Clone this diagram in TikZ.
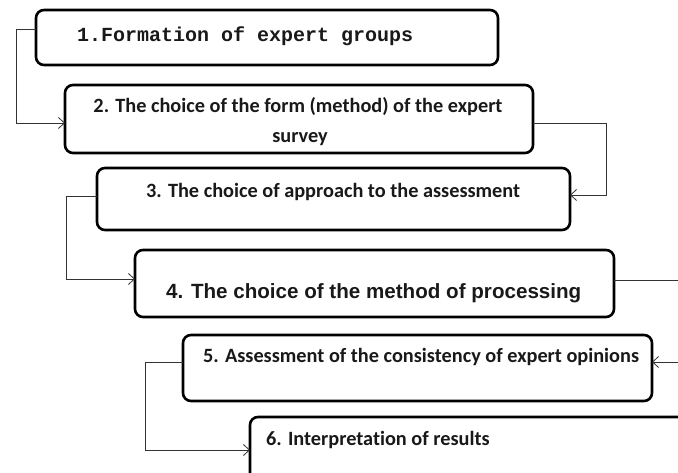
\documentclass[tikz,border=0pt]{standalone}
\usepackage{fontspec}
\setmainfont{Carlito}[Ligatures={NoCommon,NoRare,NoDiscretionary}]
\newfontfamily\monofont{Liberation Mono}
\newfontfamily\arialfont{Liberation Sans}
\usetikzlibrary{arrows.meta}
\begin{document}
\begin{tikzpicture}[x=1pt,y=-1pt,
 box/.style={draw=black, line width=2.6pt, rounded corners=8pt, anchor=north west, inner sep=0pt, outer sep=0pt},
 conn/.style={draw=black!80, line width=0.9pt},
 arr/.style={conn, -{Straight Barb[length=6pt,width=11pt,line width=0.8pt]}},
 lbl/.style={anchor=base west, inner sep=0pt, text=black!90, font=\fontsize{20.3}{24}\selectfont\bfseries},
 clbl/.style={lbl, anchor=base}]
\useasboundingbox (0,0) rectangle (678,473);
\clip (0,0) rectangle (678,473);
\fill[white] (0,0) rectangle (678,473);
% boxes
\node[box, minimum width=462pt, minimum height=55pt] (b1) at (36,10) {};
\node[box, minimum width=468pt, minimum height=68pt] (b2) at (65,85) {};
\node[box, minimum width=473pt, minimum height=62pt] (b3) at (97,168) {};
\node[box, minimum width=479pt, minimum height=67pt] (b4) at (135,250) {};
\node[box, minimum width=469pt, minimum height=66pt] (b5) at (183,335) {};
\node[box, minimum width=470pt, minimum height=70pt] (b6) at (250,417) {};
% labels
\node[lbl, font=\monofont\fontsize{20}{24}\selectfont\bfseries] (t1) at (77,42) {1.Formation of expert groups};
\node[clbl] (t2a) at (298,113) {2. The choice of the form (method) of the expert};
\node[clbl] (t2b) at (300,143) {survey};
\node[lbl] (t3) at (146,197.5) {3. The choice of approach to the assessment};
\node[lbl, font=\arialfont\fontsize{20.6}{24}\selectfont\bfseries] (t4) at (166,299) {4. The choice of the method of processing};
\node[lbl] (t5) at (203,362.5) {5. Assessment of the consistency of expert opinions};
\node[lbl] (t6) at (266,445) {6. Interpretation of results};
% connectors
\coordinate (e4) at (682,280);
\coordinate (e5) at (682,362);
\draw[arr] ([yshift=-19pt]b1.north west) -- ++(-20,0) |- ([yshift=-38pt]b2.north west);
\draw[arr] ([yshift=-38pt]b2.north east) -- ++(73,0) |- ([yshift=-27pt]b3.north east);
\draw[arr] ([yshift=-28pt]b3.north west) -- ++(-31,0) |- ([yshift=-29pt]b4.north west);
\draw[conn] ([yshift=-30pt]b4.north east) -- (e4);
\draw[arr] (e5) -- (b5.east |- e5);
\draw[arr] ([yshift=-27pt]b5.north west) -- ++(-38,0) |- ([yshift=-33pt]b6.north west);
\end{tikzpicture}
\end{document}
